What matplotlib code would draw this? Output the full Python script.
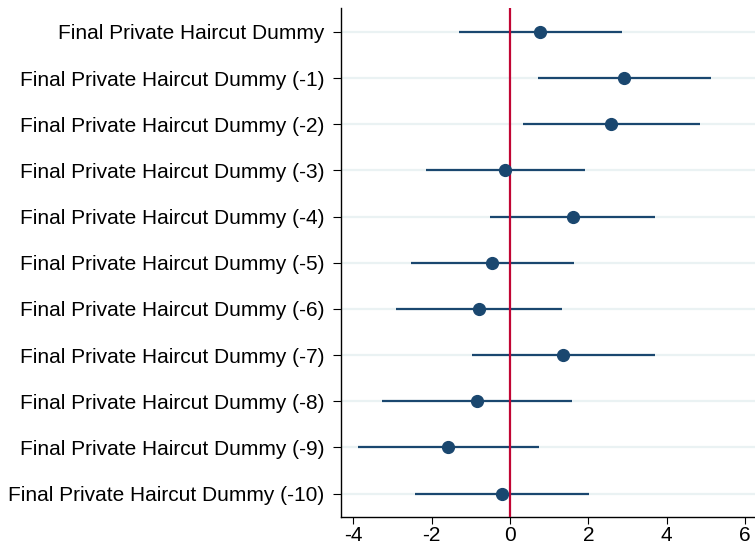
import matplotlib

matplotlib.use("Agg")
import matplotlib.pyplot as plt
import numpy as np

# coefficient plot: point estimates with confidence intervals
labels = [
    "Final Private Haircut Dummy",
    "Final Private Haircut Dummy (-1)",
    "Final Private Haircut Dummy (-2)",
    "Final Private Haircut Dummy (-3)",
    "Final Private Haircut Dummy (-4)",
    "Final Private Haircut Dummy (-5)",
    "Final Private Haircut Dummy (-6)",
    "Final Private Haircut Dummy (-7)",
    "Final Private Haircut Dummy (-8)",
    "Final Private Haircut Dummy (-9)",
    "Final Private Haircut Dummy (-10)",
]
coef = [0.77, 2.91, 2.58, -0.12, 1.60, -0.46, -0.80, 1.35, -0.85, -1.59, -0.21]
ci_low = [-1.31, 0.72, 0.32, -2.14, -0.50, -2.53, -2.91, -0.96, -3.27, -3.87, -2.42]
ci_high = [2.87, 5.12, 4.84, 1.91, 3.71, 1.63, 1.32, 3.69, 1.59, 0.73, 2.02]
xticks = [-4, -2, 0, 2, 4, 6]

NAVY = "#1a476f"
CRANBERRY = "#c10534"
GRID = "#eaf2f3"

plt.rcParams["font.family"] = ["Liberation Sans", "DejaVu Sans"]

fig = plt.figure(figsize=(7.55, 5.5), dpi=100)
ax = fig.add_axes([0.4517, 0.0605, 0.5483, 0.925])

ypos = np.arange(len(labels))
for y in ypos:
    ax.axhline(y, color=GRID, linewidth=1.6, zorder=0)

ax.axvline(0, color=CRANBERRY, linewidth=1.6, zorder=3)
ax.hlines(ypos, ci_low, ci_high, color=NAVY, linewidth=1.6, zorder=2)
ax.plot(coef, ypos, "o", color=NAVY, markersize=8.5, zorder=4)

ax.set_xlim(-4.31, 6.25)
ax.set_ylim(len(labels) - 0.5, -0.52)
ax.set_xticks(xticks)
ax.set_xticklabels([str(t) for t in xticks])
ax.set_yticks(ypos)
ax.set_yticklabels(labels)

for side in ("top", "right"):
    ax.spines[side].set_visible(False)
for side in ("left", "bottom"):
    ax.spines[side].set_linewidth(1.0)
    ax.spines[side].set_color("black")

ax.tick_params(axis="y", labelsize=15, length=6, width=0.8, pad=6)
ax.tick_params(axis="x", labelsize=15, length=5, width=0.8, pad=2)

fig.savefig("out.png", dpi=100)
